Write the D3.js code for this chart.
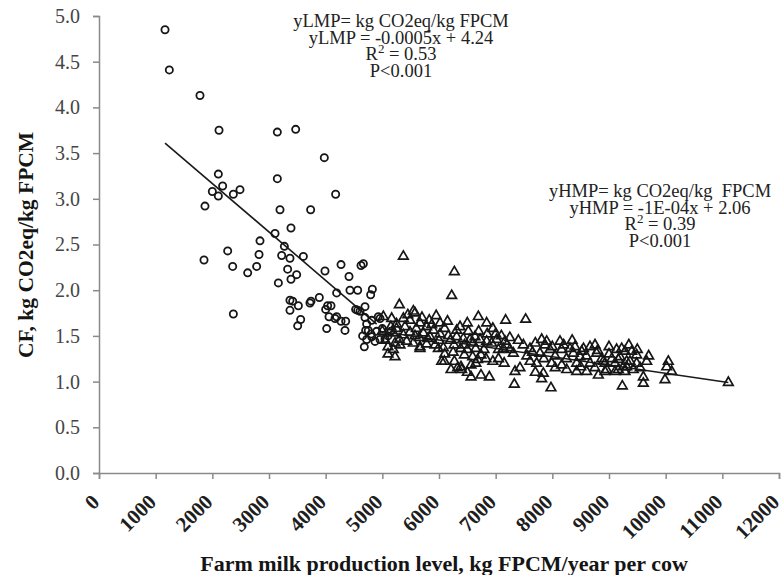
<!DOCTYPE html>
<html><head><meta charset="utf-8">
<script src="https://cdn.jsdelivr.net/npm/d3@7"></script>
<style>
html,body{margin:0;padding:0;background:#fff;}
svg{display:block;}
text{font-family:"Liberation Serif","Times New Roman",serif;}
.note{white-space:pre;}
</style></head>
<body>
<svg id="chart" width="784" height="575"></svg>
<script>
// ---- data ----
const xTicks = [0,1000,2000,3000,4000,5000,6000,7000,8000,9000,10000,11000,12000];
const yTicks = [0,0.5,1.0,1.5,2.0,2.5,3.0,3.5,4.0,4.5,5.0];

// LMP farms (circles): [milk production, CF]
const lmpPoints = [
 [1165,4.85],[1241,4.41],[1782,4.13],[2118,3.75],[3147,3.73],[3471,3.76],[3976,3.45],
 [2106,3.27],[3147,3.22],[2182,3.14],[2000,3.08],[2106,3.03],[2371,3.05],[2488,3.10],
 [4176,3.05],[1870,2.92],[3194,2.88],[3735,2.88],[3388,2.68],[3106,2.62],[2841,2.54],
 [3271,2.48],[3224,2.38],[3370,2.35],[3606,2.37],[2824,2.39],[2271,2.43],[1853,2.33],
 [2359,2.26],[2782,2.26],[2624,2.19],[3329,2.23],[3488,2.17],[3388,2.12],[3165,2.08],
 [3988,2.21],[4271,2.28],[4624,2.27],[4665,2.29],[4412,2.15],[4194,1.97],[4429,2.00],
 [4565,2.00],[4824,2.01],[4794,1.95],[3370,1.89],[3418,1.88],[3518,1.83],[3370,1.78],
 [3741,1.88],[3723,1.86],[3888,1.92],[3559,1.68],[3506,1.61],[2371,1.74],[4035,1.83],
 [4094,1.83],[4000,1.79],[4059,1.71],[4165,1.69],[4194,1.71],[4271,1.66],[4353,1.66],
 [4018,1.58],[4341,1.56],[4529,1.79],[4565,1.78],[4606,1.77],[4694,1.82],[4724,1.63],
 [4706,1.56],[4653,1.50],[4724,1.46],[4682,1.38],[4694,1.70],[4812,1.67],[4959,1.69],
 [4753,1.56],[4812,1.49],[4871,1.44],[4959,1.46],[5047,1.47],[4900,1.55],[4800,1.52],
 [4929,1.71],[5100,1.50],[5150,1.55],[5000,1.58]
];

// HMP farms (triangles): [milk production, CF]
const hmpPoints = [
 [5371,2.37],[6271,2.20],[6224,1.94],[5300,1.84],[5547,1.77],[6694,1.71],[6841,1.64],
 [6500,1.64],[5829,1.67],[6018,1.64],[5018,1.71],[5165,1.69],[5371,1.69],[5488,1.67],
 [5576,1.75],[5665,1.64],[5782,1.60],[5871,1.62],[6312,1.56],[6371,1.60],[6518,1.55],
 [7529,1.68],[7176,1.67],
 [5194,1.53],[5371,1.51],[5488,1.54],[5576,1.50],[5724,1.53],[5841,1.49],[6018,1.52],[6165,1.50],
 [5224,1.42],[5312,1.40],[5429,1.44],[5547,1.42],[5665,1.38],[5782,1.41],[5929,1.40],[6076,1.37],
 [5224,1.27],[5194,1.35],[5665,1.36],[5988,1.36],
 [6312,1.49],[6429,1.47],[6547,1.46],[6635,1.49],[6724,1.46],[6841,1.44],[6929,1.42],[7018,1.46],
 [6265,1.40],[6382,1.36],[6500,1.35],[6647,1.36],[6794,1.35],
 [6094,1.22],[6271,1.22],[6388,1.16],[6565,1.18],[6682,1.24],[6829,1.25],
 [6212,1.13],[6329,1.15],[6565,1.05],[6741,1.07],[6888,1.05],
 [6447,1.29],[6594,1.27],[6741,1.29],[6047,1.22],[6400,1.13],
 [7165,1.44],[7135,1.36],[7253,1.35],[7312,1.31],
 [7488,1.40],[7606,1.36],[7812,1.46],[7871,1.40],[7959,1.35],[7782,1.31],
 [8135,1.44],[8165,1.35],[8312,1.36],[8371,1.31],[8488,1.27],[8518,1.33],
 [8665,1.38],[8753,1.40],[8782,1.31],[8871,1.25],[8929,1.20],
 [9135,1.35],[9224,1.36],[9282,1.33],[9165,1.24],[9253,1.16],[9312,1.22],
 [7329,0.97],[7812,1.03],[7841,1.09],[7976,0.93],[7341,1.11],[7429,1.15],
 [8253,1.13],[8429,1.11],[8606,1.11],[8812,1.07],[8929,1.11],
 [9235,0.95],[9106,1.11],[9282,1.11],
 [7606,1.22],[7724,1.20],[7988,1.20],[8165,1.18],[8429,1.20],[8665,1.20],
 [9194,1.27],[9488,1.29],[9665,1.22],[10047,1.22],[10018,1.16],[10106,1.11],
 [9606,1.05],[9606,0.98],[9988,1.02],[11106,0.99],
 [8900,1.22],[8959,1.13],[9106,1.20],[9165,1.13],[9312,1.16],[9371,1.22],[9429,1.13],[9488,1.20],
 [7000,1.52],[7100,1.50],[7250,1.48],[7400,1.45],[7700,1.42],[7900,1.44],[8000,1.38],
 [8200,1.40],[8400,1.38],[8550,1.36],[8800,1.34],[9000,1.30],[9400,1.33],
 [5000,1.55],[5050,1.45],[5100,1.38],[5150,1.60],[5250,1.58],[5300,1.46],[5100,1.30],
 [5400,1.60],[5600,1.58],[5700,1.70],[5900,1.56],[6100,1.58],[6150,1.66],[5950,1.72],
 [5450,1.73],[5250,1.63],[5650,1.48],[6000,1.45],[6200,1.45],[5800,1.47],[6100,1.30],
 [6250,1.32],[6450,1.40],[6600,1.42],[6700,1.55],[6850,1.52],[6950,1.58],[6650,1.20],
 [6950,1.22],[6500,1.10],[7050,1.25],[7150,1.20],[7200,1.40],[7050,1.35],
 [7550,1.28],[7650,1.32],[7850,1.25],[8050,1.28],[8250,1.25],[8350,1.45],[8600,1.28],
 [8750,1.15],[9000,1.38],[9050,1.25],[9350,1.40],[9500,1.35],[9550,1.15],[8050,1.15],
 [7700,1.10],[8500,1.16],[9700,1.28]
];

// fitted regression lines (end points)
const lmpFit = [[1165,3.61],[4900,1.63]];
const hmpFit = [[4950,1.55],[11106,0.99]];

const lmpNote = ["yLMP= kg CO2eq/kg FPCM","yLMP = -0.0005x + 4.24","R2 = 0.53","P<0.001"];
const hmpNote = ["yHMP= kg CO2eq/kg  FPCM","yHMP = -1E-04x + 2.06","R2 = 0.39","P<0.001"];

const xTitle = "Farm milk production level, kg FPCM/year per cow";
const yTitle = "CF, kg CO2eq/kg FPCM";

// ---- drawing ----
const W = 784, H = 575;
const margin = {left: 99, right: 5, top: 16, bottom: 102};
const svg = d3.select("#chart");

const x = d3.scaleLinear().domain([0,12000]).range([margin.left, W - margin.right]);
const y = d3.scaleLinear().domain([0,5]).range([H - margin.bottom, margin.top]);

const axisColor = "#8a8a8a";

// y axis
const gy = svg.append("g").attr("transform", `translate(${margin.left},0)`)
  .call(d3.axisLeft(y).tickValues(yTicks).tickFormat(d3.format(".1f")).tickSize(6).tickPadding(13));
gy.select(".domain").attr("stroke", axisColor).attr("stroke-width", 1.5);
gy.selectAll(".tick line").attr("stroke", axisColor).attr("stroke-width", 1.5);
gy.selectAll(".tick text").attr("font-family", '"Liberation Serif",serif')
  .attr("font-size", 20).attr("fill", "#454545");

// x axis
const gx = svg.append("g").attr("transform", `translate(0,${H - margin.bottom})`)
  .call(d3.axisBottom(x).tickValues(xTicks).tickFormat(d3.format("d")).tickSize(6));
gx.select(".domain").attr("stroke", axisColor).attr("stroke-width", 1.5);
gx.selectAll(".tick line").attr("stroke", axisColor).attr("stroke-width", 1.5);
gx.selectAll(".tick text")
  .attr("font-family", '"Liberation Serif",serif').attr("font-weight", "bold")
  .attr("font-size", 21).attr("fill", "#1e1e1e")
  .attr("x", 0).attr("y", 0).attr("dy", "0.35em")
  .attr("text-anchor", "end")
  .attr("transform", "translate(-4,25) rotate(-45)");

// regression lines
const line = d3.line().x(d => x(d[0])).y(d => y(d[1]));
svg.append("path").datum(lmpFit).attr("d", line).attr("fill", "none")
  .attr("stroke", "#1a1a1a").attr("stroke-width", 1.6);
svg.append("path").datum(hmpFit).attr("d", line).attr("fill", "none")
  .attr("stroke", "#1a1a1a").attr("stroke-width", 1.6);

// points
svg.append("g").selectAll("circle").data(lmpPoints).join("circle")
  .attr("cx", d => x(d[0])).attr("cy", d => y(d[1])).attr("r", 3.6)
  .attr("fill", "none").attr("stroke", "#161616").attr("stroke-width", 1.8);

const tri = d3.symbol().type(d3.symbolTriangle).size(40);
svg.append("g").selectAll("path").data(hmpPoints).join("path")
  .attr("d", tri).attr("transform", d => `translate(${x(d[0])},${y(d[1])})`)
  .attr("fill", "none").attr("stroke", "#161616").attr("stroke-width", 1.7);

// annotations
function note(lines, cx, cy0, dy) {
  const g = svg.append("g");
  lines.forEach((t, i) => {
    const tx = g.append("text").attr("class", "note").attr("x", cx).attr("y", cy0 + i * dy)
      .attr("text-anchor", "middle").attr("dominant-baseline", "central")
      .attr("font-size", 18.5).attr("fill", "#222");
    const m = t.match(/^R2( = .*)$/);
    if (m) {
      tx.append("tspan").text("R");
      tx.append("tspan").text("2").attr("font-size", 13).attr("dy", -6);
      tx.append("tspan").text(m[1]).attr("dy", 6);
    } else tx.text(t);
  });
}
note(lmpNote, 401, 21, 16.7);
note(hmpNote, 660, 191, 16.5);

// axis titles
svg.append("text").attr("x", 444).attr("y", 563)
  .attr("text-anchor", "middle").attr("dominant-baseline", "central")
  .attr("font-weight", "bold").attr("font-size", 22).attr("fill", "#151515").text(xTitle);
svg.append("text").attr("transform", "translate(26,245) rotate(-90)")
  .attr("text-anchor", "middle").attr("dominant-baseline", "central")
  .attr("font-weight", "bold").attr("font-size", 21.5).attr("fill", "#151515").text(yTitle);
</script>
</body></html>
